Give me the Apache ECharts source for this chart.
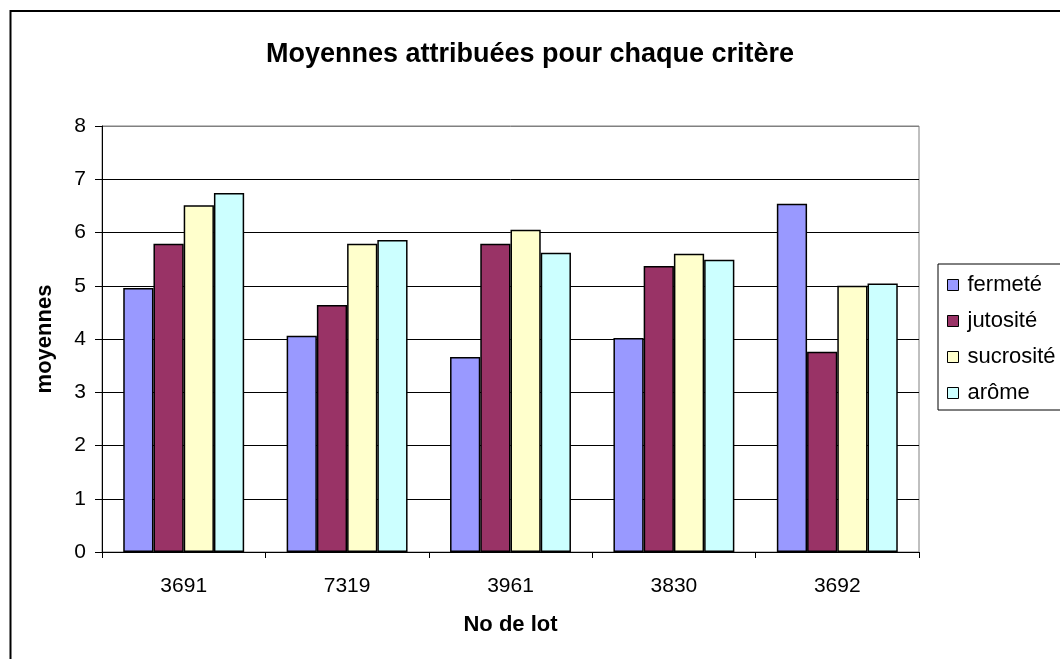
<!DOCTYPE html>
<html>
<head>
<meta charset="utf-8">
<script src="https://cdn.jsdelivr.net/npm/echarts@6/dist/echarts.min.js"></script>
<style>
html,body{margin:0;padding:0;background:#fff;}
#chart{width:1060px;height:659px;}
</style>
</head>
<body>
<div id="chart"></div>
<script>
const categories = ['3691', '7319', '3961', '3830', '3692'];
const seriesNames = ['fermeté', 'jutosité', 'sucrosité', 'arôme'];
const fermete   = [4.96, 4.06, 3.66, 4.02, 6.54];
const jutosite  = [5.79, 4.64, 5.79, 5.37, 3.76];
const sucrosite = [6.51, 5.79, 6.05, 5.60, 5.00];
const arome     = [6.74, 5.86, 5.62, 5.49, 5.04];
const colors = ['#9999FF', '#993366', '#FFFFCC', '#CCFFFF'];
const seriesData = [fermete, jutosite, sucrosite, arome];

const FONT = '"Liberation Sans", Arial, sans-serif';
const chart = echarts.init(document.getElementById('chart'));

chart.setOption({
  animation: false,
  backgroundColor: '#fff',
  title: {
    text: 'Moyennes attribuées pour chaque critère',
    left: 'center',
    top: 36,
    textStyle: { fontFamily: FONT, fontSize: 27, fontWeight: 'bold', color: '#000' }
  },
  graphic: [{
    type: 'rect',
    shape: { x: 10.5, y: 11, width: 1200, height: 800 },
    style: { fill: 'none', stroke: '#000', lineWidth: 2 },
    silent: true,
    z: -1
  }],
  legend: {
    orient: 'vertical',
    left: 938,
    top: 264,
    padding: [10, 60, 6, 9],
    borderColor: '#000',
    borderWidth: 1,
    itemWidth: 11,
    itemHeight: 11,
    itemGap: 14,
    icon: 'rect',
    itemStyle: { borderColor: '#000', borderWidth: 1 },
    textStyle: { fontFamily: FONT, fontSize: 22, color: '#000', padding: [0, 0, 0, 4] },
    data: seriesNames
  },
  grid: {
    left: 102, right: 141, top: 126, bottom: 107,
    show: true, borderColor: '#808080', borderWidth: 1, backgroundColor: '#fff'
  },
  xAxis: {
    type: 'category',
    data: categories,
    name: 'No de lot',
    nameLocation: 'middle',
    nameGap: 62,
    nameTextStyle: { fontFamily: FONT, fontSize: 22, fontWeight: 'bold', color: '#000' },
    axisLine: { lineStyle: { color: '#000', width: 1 } },
    axisTick: { show: true, length: 6, inside: false, alignWithLabel: false, lineStyle: { color: '#000' } },
    axisLabel: { fontFamily: FONT, fontSize: 21, color: '#000', margin: 24 }
  },
  yAxis: {
    type: 'value',
    min: 0, max: 8, interval: 1,
    name: 'moyennes',
    nameLocation: 'middle',
    nameGap: 46,
    nameTextStyle: { fontFamily: FONT, fontSize: 22, fontWeight: 'bold', color: '#000' },
    axisLine: { show: true, lineStyle: { color: '#000', width: 1 } },
    axisTick: { show: true, length: 7, inside: false, lineStyle: { color: '#000' } },
    axisLabel: { fontFamily: FONT, fontSize: 21, color: '#000', margin: 16 },
    splitLine: { show: true, lineStyle: { color: ['#000','#000','#000','#000','#000','#000','#000','#000','#808080'], width: 1 } }
  },
  series: seriesNames.map((n, i) => ({
    name: n,
    type: 'bar',
    data: seriesData[i],
    barGap: '0%',
    barCategoryGap: '26%',
    itemStyle: { color: colors[i], borderColor: '#000', borderWidth: 1.5 }
  }))
});
</script>
</body>
</html>
